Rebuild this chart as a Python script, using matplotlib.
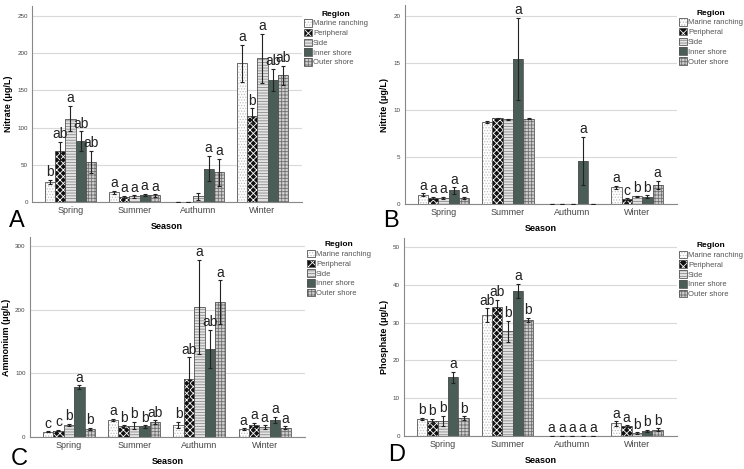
import numpy as np
import matplotlib.pyplot as plt
from matplotlib.patches import Patch
from matplotlib.legend_handler import HandlerTuple

seasons = ["Spring", "Summer", "Authumn", "Winter"]
regions = ["Marine ranching", "Peripheral", "Side", "Inner shore", "Outer shore"]

# Nitrate (ug/L): rows = season, cols = region
nitrate = [[27, 69, 112, 82, 54],
           [13.4, 7, 7.6, 10, 9],
           [0.3, 0.3, 8, 45, 40],
           [186, 116, 193, 164, 170]]
nitrate_err = [[3, 12, 17, 13, 15],
               [2, 1.5, 1.5, 1.5, 1.5],
               [0.2, 0.2, 4.5, 17, 18],
               [25, 10, 33, 15, 13]]
nitrate_lbl = [["b", "ab", "a", "ab", "ab"],
               ["a", "a", "a", "a", "a"],
               ["", "", "", "a", "a"],
               ["a", "b", "a", "ab", "ab"]]

nitrite = [[1.0, 0.64, 0.67, 1.45, 0.67],
           [8.7, 9.13, 9.06, 15.47, 9.1],
           [0.02, 0.02, 0.02, 4.6, 0.02],
           [1.77, 0.53, 0.85, 0.78, 2.05]]
nitrite_err = [[0.15, 0.1, 0.1, 0.35, 0.1],
               [0.1, 0.05, 0.05, 4.4, 0.05],
               [0, 0, 0, 2.55, 0],
               [0.15, 0.1, 0.05, 0.15, 0.4]]
nitrite_lbl = [["a", "a", "a", "a", "a"],
               ["", "", "", "a", ""],
               ["", "", "", "a", ""],
               ["a", "c", "b", "b", "a"]]

ammonium = [[8.4, 10, 19, 78, 13],
            [26.7, 16.7, 18, 16.7, 23.5],
            [19, 91, 204, 138.5, 212],
            [12.5, 19, 15.7, 26.7, 15]]
ammonium_err = [[1, 1, 2, 3, 2],
                [2, 2, 6, 2, 3],
                [5, 34, 74, 30, 34],
                [1, 3, 3, 5, 2]]
ammonium_lbl = [["c", "c", "b", "a", "b"],
                ["a", "b", "b", "b", "ab"],
                ["b", "ab", "a", "ab", "a"],
                ["a", "a", "a", "a", "a"]]

phosphate = [[4.6, 4.1, 4.1, 15.5, 4.8],
             [32.0, 34.2, 27.7, 38.4, 30.7],
             [0.1, 0.1, 0.1, 0.1, 0.1],
             [3.35, 2.6, 0.8, 1.4, 1.75]]
phosphate_err = [[0.3, 0.5, 1.3, 1.5, 0.4],
                 [1.8, 1.8, 2.7, 1.9, 0.5],
                 [0.05, 0.05, 0.05, 0.05, 0.05],
                 [0.6, 0.3, 0.2, 0.3, 0.3]]
phosphate_lbl = [["b", "b", "b", "a", "b"],
                 ["ab", "ab", "b", "a", "b"],
                 ["a", "a", "a", "a", "a"],
                 ["a", "a", "b", "b", "b"]]

# bar styles: facecolor, hatch, hatch colour
styles = [("white", "......", "#c0c0c0"),
          ("#111111", "xxxxx", "white"),
          ("#e4e4e4", "------", "#8a8a8a"),
          ("#4b5d57", "", "#4b5d57"),
          ("#cfcfcf", "+++++", "#707070")]

plt.rcParams["font.family"] = ["Liberation Sans", "DejaVu Sans"]
plt.rcParams["hatch.linewidth"] = 0.6
fig = plt.figure(figsize=(7.44, 4.69), dpi=100)

panels = [
    ("A", nitrate, nitrate_err, nitrate_lbl, "Nitrate (\u03bcg/L)", 263, 50,
     [0.043, 0.569, 0.363, 0.418], (0.012, 0.515)),
    ("B", nitrite, nitrite_err, nitrite_lbl, "Nitrite (\u03bcg/L)", 21.2, 5,
     [0.544, 0.565, 0.366, 0.424], (0.515, 0.515)),
    ("C", ammonium, ammonium_err, ammonium_lbl, "Ammonium (\u03bcg/L)", 314, 100,
     [0.040, 0.068, 0.370, 0.427], (0.014, 0.008)),
    ("D", phosphate, phosphate_err, phosphate_lbl, "Phosphate (\u03bcg/L)", 52.4, 10,
     [0.543, 0.070, 0.367, 0.423], (0.522, 0.018)),
]

width = 0.16
x = np.arange(len(seasons))

for letter, vals, errs, lbls, ylab, ytop, ystep, rect, lpos in panels:
    ax = fig.add_axes(rect)
    vals = np.array(vals)
    errs = np.array(errs)
    for j in range(len(regions)):
        fc, hatch, hc = styles[j]
        xs = x + (j - 2) * width
        ax.bar(xs, vals[:, j], width, color=fc, hatch=hatch, edgecolor=hc,
               linewidth=0, zorder=2)
        ax.bar(xs, vals[:, j], width, fill=False, edgecolor="#555555",
               linewidth=0.6, zorder=3)
        ax.errorbar(xs, vals[:, j], yerr=errs[:, j], fmt="none", ecolor="#222222",
                    elinewidth=0.8, capsize=1.2, capthick=0.8, zorder=4)
        for i in range(len(seasons)):
            if lbls[i][j]:
                ax.text(xs[i], vals[i, j] + errs[i, j] + ytop * 0.003, lbls[i][j],
                        ha="center", va="bottom", fontsize=10, color="#222222",
                        zorder=5)
    ax.set_xlim(-0.6, 3.62)
    ax.set_ylim(0, ytop)
    ax.set_yticks(np.arange(0, ytop, ystep))
    ax.set_xticks(x)
    ax.set_xticklabels(seasons)
    ax.tick_params(axis="y", labelsize=4.5, colors="#444444", length=0, pad=3)
    ax.tick_params(axis="x", labelsize=6.5, colors="#444444", length=0, pad=3)
    ax.yaxis.grid(True, color="#d9d9d9", linewidth=0.8, zorder=0)
    ax.set_axisbelow(True)
    for s in ["top", "right"]:
        ax.spines[s].set_visible(False)
    for s in ["left", "bottom"]:
        ax.spines[s].set_color("#888888")
        ax.spines[s].set_linewidth(0.8)
    ax.set_ylabel(ylab, fontsize=6.5, fontweight="bold", labelpad=3)
    ax.set_xlabel("Season", fontsize=6.5, fontweight="bold", labelpad=5)

    # legend swatches: hatched fill with a grey outline on top
    handles = [(Patch(facecolor=styles[j][0], hatch=styles[j][1],
                      edgecolor=styles[j][2], linewidth=0),
                Patch(fill=False, edgecolor="#555555", linewidth=0.6))
               for j in range(len(regions))]
    handles[1] = (Patch(facecolor="#111111", hatch="xxxx", edgecolor="white",
                        linewidth=0),
                  Patch(fill=False, edgecolor="#555555", linewidth=0.6))
    leg = ax.legend(handles, regions, loc="upper left", bbox_to_anchor=(0.99, 1.0),
                    handler_map={tuple: HandlerTuple(ndivide=1, pad=0)},
                    frameon=False, fontsize=5.5, title="Region",
                    title_fontproperties={"weight": "bold", "size": 6},
                    handlelength=1.1, handleheight=1.15, handletextpad=0.1,
                    labelspacing=0.18, borderaxespad=0.2)
    for t in leg.get_texts():
        t.set_color("#555555")
    fig.text(lpos[0], lpos[1], letter, fontsize=17, color="black")

fig.savefig("out.png", dpi=100)
